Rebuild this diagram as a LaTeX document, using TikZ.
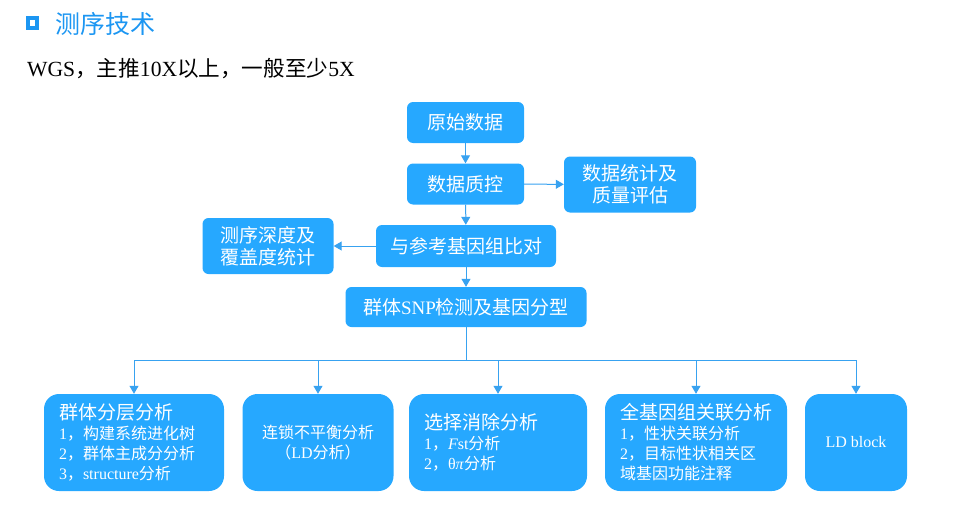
\documentclass[tikz,border=0pt]{standalone}
\usepackage{fontspec}
\setmainfont{Noto Sans CJK SC}
\newfontfamily\lat{Liberation Serif}
\usetikzlibrary{arrows.meta, positioning}

\definecolor{boxblue}{RGB}{38,168,255}
\definecolor{titleblue}{RGB}{28,150,242}
\definecolor{lineblue}{RGB}{56,162,240}
\newcommand{\fs}[2]{\fontsize{#1}{#2}\selectfont}

\begin{document}
\begin{tikzpicture}[
      x=1pt, y=-1pt,
      link/.style={draw=lineblue, line width=1pt},
      arrow/.style={link, -{Triangle[width=9pt, length=8pt]}},
      stepbox/.style={fill=boxblue, text=white, rounded corners=6pt, inner sep=0pt, align=center, font=\fs{19}{22}},
      resultbox/.style={fill=boxblue, text=white, rounded corners=15pt, minimum height=97pt, inner ysep=0pt, inner xsep=15pt, font=\fs{16}{20}},
      heading/.style={font=\fs{25}{28}, text=titleblue, inner sep=0pt, anchor=west}
    ]
    \useasboundingbox (0,0) rectangle (955,514);

    % header
    \node[draw=titleblue, line width=4pt, minimum size=9.5pt, inner sep=0pt] (icon) at (32.5,23) {};
    \node[heading] (title) at (55,24) {测序技术};
    \node[font=\fs{21.6}{24}, inner sep=0pt, anchor=west] (wgs) at (27,69) {{\lat WGS}，主推{\lat 10X}以上，一般至少{\lat 5X}};

    % pipeline
    \node[stepbox, minimum width=117pt, minimum height=41pt] (raw) at (465.5,122.5) {原始数据};
    \node[stepbox, minimum width=117pt, minimum height=41pt] (qc) at (465.5,184) {数据质控};
    \node[stepbox, minimum width=132pt, minimum height=56pt] (stat) at (630,184.5) {数据统计及\\质量评估};
    \node[stepbox, minimum width=180pt, minimum height=42pt] (map) at (466,246) {与参考基因组比对};
    \node[stepbox, minimum width=131pt, minimum height=56pt] (depth) at (268,246) {测序深度及\\覆盖度统计};
    \node[stepbox, minimum width=241pt, minimum height=40pt] (snp) at (466,307) {群体{\lat SNP}检测及基因分型};

    \draw[arrow] (raw) -- (qc);
    \draw[arrow] (qc) -- (stat);
    \draw[arrow] (qc) -- (map);
    \draw[arrow] (map) -- (depth);
    \draw[arrow] (map) -- (snp);

    % analyses
    \node[resultbox, text width=150pt, align=left] (strat) at (134,442.5)
      {{\fs{19}{24}群体分层分析}\\ {\lat 1}，构建系统进化树\\ {\lat 2}，群体主成分分析\\ {\lat 3}，{\lat structure}分析};
    \node[resultbox, minimum width=151pt, align=center] (ld) at (318,442.5)
      {连锁不平衡分析\\（{\lat LD}分析）};
    \node[resultbox, text width=148pt, align=left] (sel) at (498,442.5)
      {{\fs{19}{24}选择消除分析}\\ {\lat 1}，{\lat\itshape F}{\lat st}分析\\ {\lat 2}，{\lat θ\textit{π}}分析};
    \node[resultbox, text width=152pt, align=left] (gwas) at (696,442.5)
      {{\fs{19}{24}全基因组关联分析}\\ {\lat 1}，性状关联分析\\ {\lat 2}，目标性状相关区\\ 域基因功能注释};
    \node[resultbox, minimum width=102pt, align=center] (blk) at (856,442.5) {\lat LD block};

    \draw[link] (snp.south) -- ++(0,33.5) coordinate (bus);
    \foreach \b in {strat, ld, sel, gwas, blk}
      \draw[arrow] (bus) -| (\b.north);
  \end{tikzpicture}
\end{document}
